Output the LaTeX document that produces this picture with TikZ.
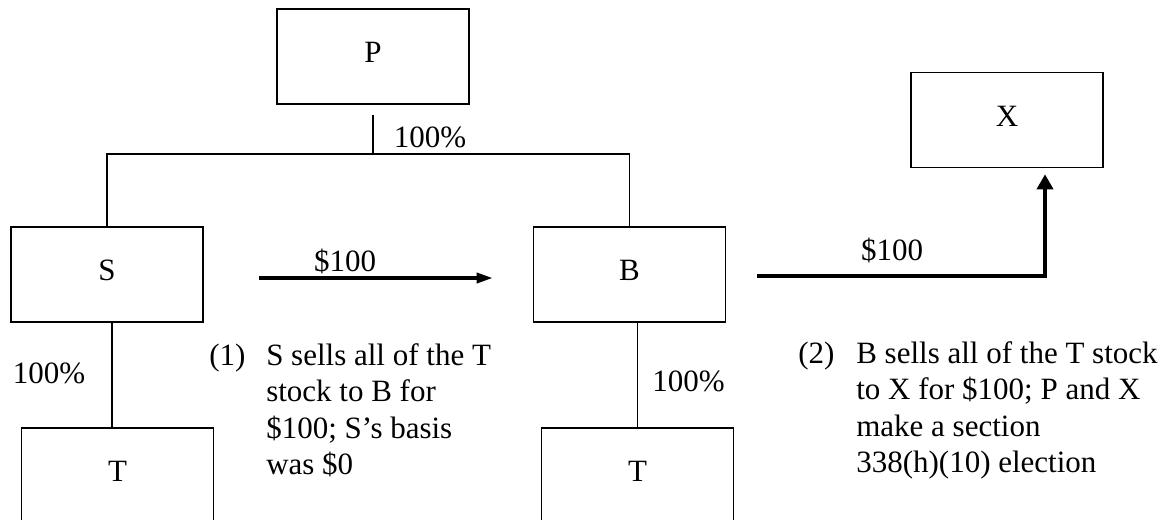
\documentclass[tikz,border=0pt]{standalone}
\usepackage{fontspec}
\setmainfont{Liberation Serif}
\usepackage{tikz}
\usetikzlibrary{arrows.meta}
\newcommand{\rowstrut}{\rule[-7.8pt]{0pt}{25.96pt}}

\begin{document}
\begin{tikzpicture}[
    font=\fontsize{22.05pt}{25.96pt}\selectfont,
    entity/.style={draw, line width=1.1pt, minimum width=4.8cm, minimum height=2.375cm, text height=0.9em, text depth=0pt},
    bar/.style={line width=1.4pt},
    stem/.style={line width=0.9pt},
    tag/.style={inner sep=0pt, anchor=base},
    flow/.style={line width=2.5pt}]
    \clip (0,0) rectangle (29.25,-12.975);

    % Entities
    \node[entity] (P) at (9.325,-1.4125) {P};
    \node[entity] (S) at (2.675,-6.8625) {S};
    \node[entity] (B) at (15.7375,-6.8625) {B};
    \node[entity] (X) at (25.175,-3.0) {X};
    \node[entity] (Tl) at (2.9375,-11.8875) {T};
    \node[entity] (Tr) at (15.9375,-11.8875) {T};

    % Ownership
    \coordinate (bus) at ([yshift=1.8cm]S.north);
    \draw[bar] (S.north) -- (bus) -| (B.north);
    \draw[stem] ([yshift=-0.25cm]P.south) -- (P.south |- bus);
    \draw[stem] ([xshift=0.125cm]S.south) -- ([xshift=0.125cm]S.south |- Tl.north);
    \draw[stem] (Tr.north) -- (Tr.north |- B.south);
    \node[tag] (pctP) at (10.75,-3.675) {100\%};
    \node[tag] (pctS) at (1.225,-9.575) {100\%};
    \node[tag] (pctB) at (17.2125,-9.775) {100\%};

    % Sales
    \draw[flow, -{Triangle[length=0.4cm,width=0.25cm]}] ([xshift=1.375cm,yshift=-0.0875cm]S.east) -- ([xshift=-1cm,yshift=-0.0875cm]B.west);
    \node[tag] (pay1) at (8.625,-6.775) {\$100};
    \draw[flow, -{Triangle[length=0.375cm,width=0.4cm]}] ([xshift=0.775cm,yshift=-0.0375cm]B.east) -| ([xshift=0.95cm,yshift=-0.15cm]X.south);
    \node[tag] (pay2) at (22.3,-6.5) {\$100};

    % Steps
    \node[tag, anchor=base west] (step1) at (5.225,-9.125) {\begin{tabular}[t]{@{}p{1.425cm}@{}l@{}}
        (1) & S sells all of the T\rowstrut\\ & stock to B for\rowstrut\\ & \$100; S's basis\rowstrut\\ & was \$0\rowstrut
    \end{tabular}};
    \node[tag, anchor=base west] (step2) at (19.95,-9.075) {\begin{tabular}[t]{@{}p{1.45cm}@{}l@{}}
        (2) & B sells all of the T stock\rowstrut\\ & to X for \$100; P and X\rowstrut\\ & make a section\rowstrut\\ & 338(h)(10) election\rowstrut
    \end{tabular}};
\end{tikzpicture}
\end{document}
